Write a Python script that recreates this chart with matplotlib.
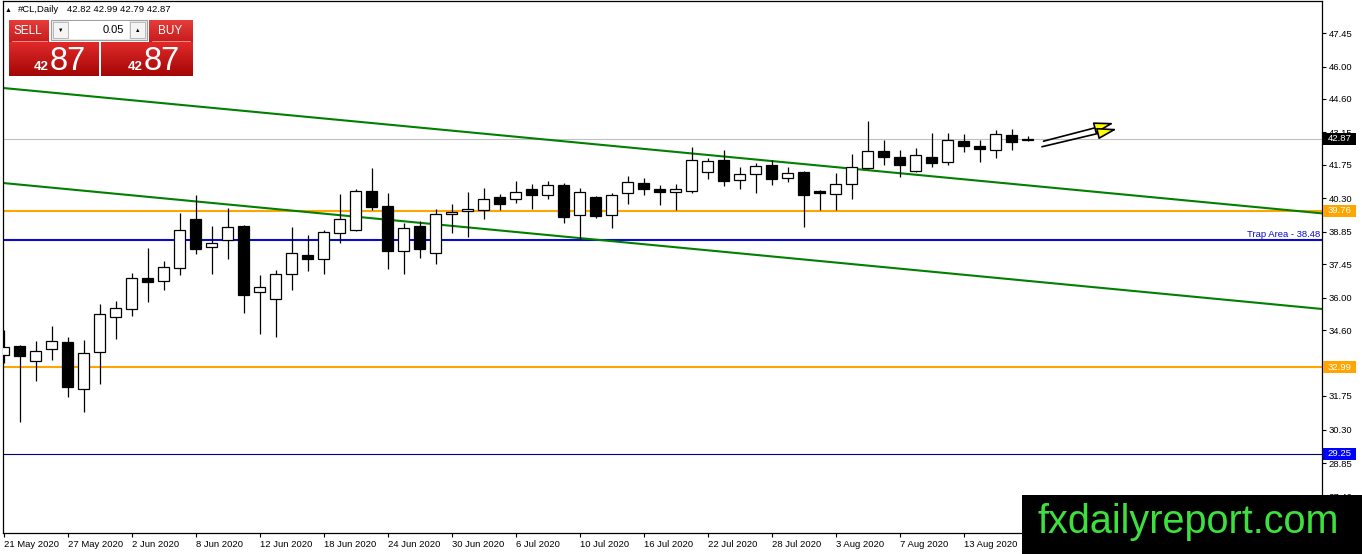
import matplotlib
matplotlib.use("Agg")
import matplotlib.pyplot as plt
import matplotlib.transforms as mtransforms
from matplotlib.colors import LinearSegmentedColormap
from matplotlib.patches import Rectangle
import numpy as np
import pandas as pd

plt.rcParams["font.family"] = ["Liberation Sans", "DejaVu Sans"]

W, H = 1362, 554

# --- data: #CL daily bars, 21 May 2020 .. 19 Aug 2020 ---
dates = pd.bdate_range("2020-05-21", "2020-08-19")
opens = [33.51, 33.91, 33.25, 33.77, 34.07, 32.04, 33.64, 35.18, 35.53, 36.85,
         36.71, 37.27, 39.41, 38.18, 38.48, 39.10, 36.23, 35.93, 37.01, 37.85,
         37.69, 38.79, 38.94, 40.62, 39.97, 38.01, 39.10, 37.92, 39.61, 39.76,
         39.79, 40.34, 40.28, 40.70, 40.46, 40.88, 39.57, 40.34, 39.57, 40.52,
         40.95, 40.69, 40.56, 40.63, 41.45, 41.96, 41.08, 41.34, 41.74, 41.17,
         41.44, 40.60, 40.47, 40.91, 41.60, 42.33, 42.07, 41.47, 42.10, 41.86,
         42.77, 42.55, 42.40, 43.03, 42.82]
highs = [34.60, 33.96, 34.13, 34.78, 34.29, 34.17, 35.73, 35.86, 37.06, 38.16,
         37.59, 39.68, 40.46, 39.09, 39.87, 39.15, 36.97, 37.20, 39.05, 38.70,
         38.93, 40.49, 40.72, 41.61, 40.53, 39.22, 39.32, 39.85, 40.05, 40.57,
         40.73, 40.49, 41.05, 40.92, 41.05, 40.95, 40.73, 40.40, 40.52, 41.26,
         41.17, 40.88, 40.92, 42.51, 42.03, 42.39, 41.67, 41.84, 41.96, 41.64,
         41.48, 40.66, 41.38, 42.22, 43.64, 42.82, 42.39, 42.46, 43.11, 43.11,
         43.08, 42.82, 43.25, 43.28, 42.99]
lows = [33.19, 30.64, 32.41, 33.31, 31.72, 31.07, 32.28, 34.23, 35.22, 35.83,
        36.33, 36.98, 37.89, 37.04, 37.69, 35.35, 34.44, 34.31, 36.35, 37.16,
        37.04, 38.35, 38.90, 39.79, 37.26, 37.04, 37.73, 37.47, 38.81, 38.64,
        39.40, 39.79, 40.11, 39.84, 40.28, 39.25, 38.53, 39.45, 39.03, 40.07,
        40.46, 40.00, 39.79, 40.54, 41.15, 40.85, 40.69, 40.52, 40.88, 41.02,
        39.07, 39.79, 39.79, 40.28, 41.55, 41.75, 41.23, 41.45, 41.67, 41.73,
        42.32, 41.87, 42.06, 42.39, 42.79]
closes = [33.86, 33.49, 33.68, 34.12, 32.15, 33.60, 35.28, 35.54, 36.84, 36.69,
          37.32, 38.92, 38.12, 38.35, 39.05, 36.13, 36.46, 37.01, 37.92, 37.66,
          38.83, 39.39, 40.60, 39.94, 38.03, 39.00, 38.12, 39.62, 39.72, 39.82,
          40.26, 40.07, 40.56, 40.46, 40.86, 39.50, 40.56, 39.53, 40.43, 40.99,
          40.69, 40.56, 40.69, 41.94, 41.90, 41.06, 41.34, 41.68, 41.15, 41.39,
          40.46, 40.55, 40.91, 41.64, 42.33, 42.10, 41.73, 42.16, 41.81, 42.81,
          42.58, 42.45, 43.07, 42.75, 42.87]

# horizontal levels
orange_levels = [39.76, 32.99]
trap_level = 38.48
low_level = 29.25
# trend lines: (bar index, price) anchor pairs
trend_upper = [(0, 45.07), (64, 40.86)]
trend_lower = [(0, 40.96), (64, 36.73)]
# projection arrows: start / end in (bar index, price)
arrow_starts = [(65.0, 42.77), (64.9, 42.53)]
arrow_ends = [(69.4, 43.56), (69.6, 43.30)]

price_ticks = [47.45, 46.00, 44.60, 43.15, 41.75, 40.30, 38.85, 37.45,
               36.00, 34.60, 33.15, 31.75, 30.30, 28.85, 27.40]

# --- figure ---
fig = plt.figure(figsize=(W / 100, H / 100), dpi=100)
fig.patch.set_facecolor("white")
ax_l, ax_r, ax_t, ax_b = 3, 1322, 1, 533
ax = fig.add_axes([ax_l / W, (H - ax_b) / H, (ax_r - ax_l) / W, (ax_b - ax_t) / H])
px_per_bar = 16.0
px_per_unit = 23.12
ax.set_xlim(-0.5 / px_per_bar, (ax_r - ax_l - 0.5) / px_per_bar)
ax.set_ylim(47.45 - (ax_b - 33) / px_per_unit, 47.45 + (33 - ax_t) / px_per_unit)

x = np.arange(len(dates))
o = np.array(opens)
c = np.array(closes)
up = c >= o
ax.vlines(x, lows, highs, color="black", lw=0.9, zorder=3)
ax.bar(x, np.abs(c - o), bottom=np.minimum(o, c), width=0.68,
       color=np.where(up, "white", "black"), edgecolor="black", linewidth=0.9, zorder=4)

# levels and trend lines
ax.axhline(closes[-1], color="#c0c0c0", lw=0.8, zorder=1)
for lv in orange_levels:
    ax.axhline(lv, color="#FFA500", lw=1.5, zorder=2)
ax.axhline(trap_level, color="#0a0ad0", lw=1.5, zorder=2)
ax.axhline(low_level, color="#000080", lw=0.8, zorder=2)
ax.axline(trend_upper[0], trend_upper[1], color="#008000", lw=1.5, zorder=2)
ax.axline(trend_lower[0], trend_lower[1], color="#008000", lw=1.5, zorder=2)

for s, e in zip(arrow_starts, arrow_ends):
    ax.annotate("", xy=e, xytext=s,
                arrowprops=dict(arrowstyle="-|>,head_length=1.2,head_width=0.35",
                                fc="#ffff00", ec="black", lw=1.2, shrinkA=0, shrinkB=0),
                zorder=6)

blend = mtransforms.blended_transform_factory(ax.transAxes, ax.transData)
axw = ax_r - ax_l
ax.text(1 - 2 / axw, trap_level + 1.5 / px_per_unit, f"Trap Area - {trap_level:.2f}",
        transform=blend, ha="right", va="bottom", color="#0a0ad0", fontsize=6.8)

# axes styling
for sp in ax.spines.values():
    sp.set_color("black")
    sp.set_linewidth(0.9)
ax.yaxis.tick_right()
ax.set_yticks(price_ticks)
ax.set_yticklabels([f"{v:.2f}" for v in price_ticks])
ax.tick_params(axis="y", length=3, width=0.8, pad=2, labelsize=6.8, colors="black")
xt = list(range(0, len(dates), 4))
ax.set_xticks(xt)
ax.set_xticklabels([f"{dates[i].day} {dates[i]:%b %Y}" for i in xt])
ax.tick_params(axis="x", length=3, width=0.8, pad=2, labelsize=6.8)
for lbl in ax.get_xticklabels():
    lbl.set_ha("left")

# price tags on the scale
tags = [(closes[-1], "black"), (orange_levels[0], "#FFA500"),
        (orange_levels[1], "#FFA500"), (low_level, "#0000ff")]
for val, col in tags:
    ax.add_patch(Rectangle((1 + 1 / axw, val - 6 / px_per_unit), 33 / axw, 12 / px_per_unit,
                           transform=blend, fc=col, ec="none", clip_on=False, zorder=8))
    ax.text(1 + 17.5 / axw, val, f"{val:.2f}", transform=blend, ha="center", va="center",
            color="white", fontsize=6.8, zorder=9, clip_on=False)

# --- overlay in pixel coordinates: header, trade panel, watermark ---
ov = fig.add_axes([0, 0, 1, 1], zorder=10)
ov.set_axis_off()
ov.patch.set_alpha(0)


def grad_box(x0, y0, x1, y1, top, bottom):
    cmap = LinearSegmentedColormap.from_list("g", [top, bottom])
    ov.imshow(np.linspace(0, 1, 64).reshape(-1, 1), cmap=cmap, aspect="auto",
              extent=(x0, x1, y1, y0), interpolation="bilinear", zorder=1)


grad_box(9, 20, 49, 42, "#e53c3c", "#c81c1c")
grad_box(149, 20, 193, 42, "#e53c3c", "#c81c1c")
grad_box(9, 42, 99, 76, "#e02a2a", "#a40606")
grad_box(101, 42, 193, 76, "#e02a2a", "#a40606")
ov.set_xlim(0, W)
ov.set_ylim(H, 0)

ov.plot([12, 47], [40.5, 40.5], color="#f3a0a0", lw=0.6, zorder=2)
ov.plot([152, 190], [40.5, 40.5], color="#f3a0a0", lw=0.6, zorder=2)
ov.add_patch(Rectangle((51, 20), 96, 20, fc="#ececec", ec="#a0a0a0", lw=0.8, zorder=2))
ov.add_patch(Rectangle((53, 22), 15, 16, fc="#f4f4f4", ec="#b0b0b0", lw=0.6, zorder=3))
ov.add_patch(Rectangle((130, 22), 15, 16, fc="#f4f4f4", ec="#b0b0b0", lw=0.6, zorder=3))
ov.add_patch(Rectangle((69, 21), 60, 18, fc="white", ec="none", zorder=3))
ov.text(60.5, 30, "▼", fontsize=4, ha="center", va="center", zorder=4)
ov.text(137.5, 30, "▲", fontsize=4, ha="center", va="center", zorder=4)
ov.text(124, 30, "0.05", fontsize=8, ha="right", va="center", zorder=4)
ov.text(28, 31, "SELL", fontsize=8.5, color="white", ha="center", va="center", zorder=4)
ov.text(170, 31, "BUY", fontsize=8.5, color="white", ha="center", va="center", zorder=4)
for x0 in (34, 128):
    ov.text(x0, 70, "42", fontsize=9.5, fontweight="bold", color="white",
            ha="left", va="baseline", zorder=4)
    ov.text(x0 + 16, 70, "87", fontsize=23.5, color="white",
            ha="left", va="baseline", zorder=4)

ov.text(8, 10, "▲", fontsize=5, ha="center", va="center")
ov.text(18, 10, "#CL,Daily", fontsize=6.8, ha="left", va="center")
ov.text(67, 10, f"{opens[-1]:.2f} {highs[-1]:.2f} {lows[-1]:.2f} {closes[-1]:.2f}",
        fontsize=6.8, ha="left", va="center")

ov.add_patch(Rectangle((1022, 495), W - 1022, H - 495, fc="black", ec="none", zorder=5))
ov.text(1037, 533, "fxdailyreport.com", fontsize=28.5, color="#3ee03e",
        ha="left", va="baseline", zorder=6)

fig.savefig("out.png", dpi=100, facecolor="white")
